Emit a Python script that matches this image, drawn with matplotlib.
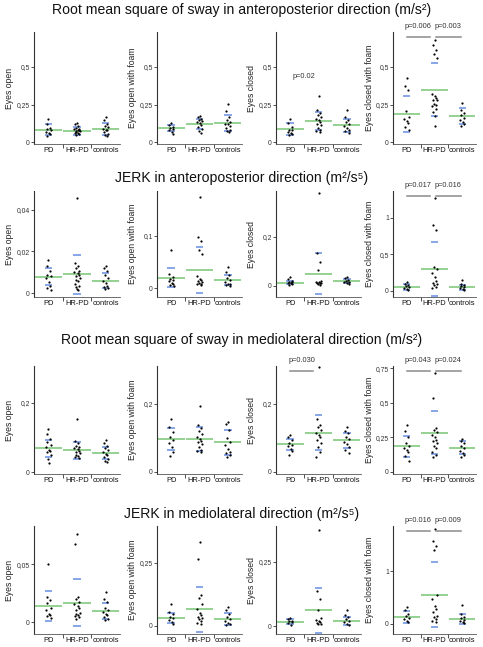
import matplotlib
matplotlib.use("Agg")
import matplotlib.pyplot as plt
from matplotlib.ticker import FuncFormatter, FixedLocator

plt.rcParams['font.family'] = ['Liberation Sans', 'DejaVu Sans']

groups = ["PD", "HR-PD", "controls"]
conditions = ["Eyes open", "Eyes open with foam", "Eyes closed", "Eyes closed with foam"]
titles = ["Root mean square of sway in anteroposterior direction (m/s²)",
          "JERK in anteroposterior direction (m²/s⁵)",
          "Root mean square of sway in mediolateral direction (m/s²)",
          "JERK in mediolateral direction (m²/s⁵)"]

# ---- individual values (PD, HR-PD, controls) ----
rms_ap_eo = [[0.156, 0.12, 0.093, 0.087, 0.078, 0.064, 0.06, 0.051, 0.04],
             [0.127, 0.118, 0.104, 0.096, 0.09, 0.087, 0.082, 0.078, 0.075, 0.071, 0.064, 0.06, 0.058, 0.051, 0.044],
             [0.167, 0.149, 0.122, 0.104, 0.1, 0.089, 0.082, 0.078, 0.067, 0.056, 0.044, 0.038]]
rms_ap_eof = [[0.129, 0.111, 0.1, 0.092, 0.089, 0.078, 0.067, 0.056],
              [0.171, 0.167, 0.156, 0.144, 0.14, 0.133, 0.125, 0.111, 0.1, 0.089, 0.073, 0.062],
              [0.251, 0.204, 0.167, 0.144, 0.133, 0.122, 0.118, 0.104, 0.093, 0.078, 0.071, 0.067]]
rms_ap_ec = [[0.156, 0.127, 0.1, 0.08, 0.078, 0.067, 0.06, 0.056, 0.049],
             [0.307, 0.211, 0.193, 0.178, 0.167, 0.156, 0.144, 0.133, 0.122, 0.111, 0.093, 0.082, 0.073, 0.067],
             [0.211, 0.167, 0.144, 0.133, 0.118, 0.104, 0.093, 0.082, 0.071, 0.062]]
rms_ap_ecf = [[0.427, 0.371, 0.349, 0.207, 0.167, 0.151, 0.14, 0.127, 0.1, 0.082],
              [0.682, 0.649, 0.616, 0.589, 0.562, 0.318, 0.304, 0.293, 0.282, 0.278, 0.256, 0.245, 0.238, 0.222, 0.2, 0.171, 0.104],
              [0.26, 0.211, 0.193, 0.178, 0.162, 0.149, 0.133, 0.118, 0.104]]

jerk_ap_eo = [[0.016, 0.013, 0.0104, 0.0088, 0.008, 0.0072, 0.0051, 0.0035, 0.0024, 0.0016],
              [0.0456, 0.0144, 0.0131, 0.012, 0.0107, 0.0099, 0.0096, 0.0088, 0.008, 0.0072, 0.0064, 0.0056, 0.0045, 0.0035, 0.0027, 0.0019, 0.0013],
              [0.0131, 0.012, 0.0107, 0.0088, 0.0072, 0.006, 0.0048, 0.0035, 0.0029, 0.0024, 0.0019]]
jerk_ap_eof = [[0.073, 0.0277, 0.0213, 0.0181, 0.0161, 0.0135, 0.0103, 0.0084, 0.0058, 0.0032],
               [0.175, 0.0987, 0.091, 0.073, 0.0645, 0.0226, 0.018, 0.0148, 0.0135, 0.0116, 0.0097, 0.0084, 0.0071, 0.0052],
               [0.0406, 0.031, 0.0245, 0.02, 0.0148, 0.0116, 0.0084, 0.0071, 0.0052, 0.0039]]
jerk_ap_ec = [[0.038, 0.027, 0.022, 0.018, 0.0164, 0.0137, 0.011, 0.008, 0.004],
              [0.378, 0.134, 0.1, 0.066, 0.022, 0.018, 0.0152, 0.0137, 0.0123, 0.011, 0.008, 0.004],
              [0.038, 0.0315, 0.025, 0.0205, 0.0164, 0.0151, 0.0123, 0.008]]
jerk_ap_ecf = [[0.123, 0.095, 0.077, 0.068, 0.059, 0.041, 0.027, 0.014],
               [1.26, 0.9, 0.83, 0.32, 0.295, 0.24, 0.195, 0.136, 0.105, 0.095, 0.082, 0.059, 0.036],
               [0.15, 0.095, 0.082, 0.068, 0.05, 0.036, 0.023, 0.009]]

rms_ml_eo = [[0.123, 0.111, 0.095, 0.086, 0.079, 0.071, 0.064, 0.062, 0.057, 0.048, 0.038, 0.026],
             [0.152, 0.09, 0.083, 0.076, 0.071, 0.069, 0.067, 0.062, 0.059, 0.054, 0.05, 0.047, 0.043, 0.04],
             [0.093, 0.083, 0.076, 0.07, 0.064, 0.057, 0.052, 0.048, 0.043, 0.038, 0.033, 0.029]]
rms_ml_eof = [[0.157, 0.133, 0.118, 0.103, 0.094, 0.086, 0.074, 0.059, 0.046],
              [0.194, 0.138, 0.128, 0.121, 0.111, 0.103, 0.096, 0.091, 0.089, 0.082, 0.074, 0.066, 0.062, 0.059],
              [0.148, 0.141, 0.123, 0.101, 0.089, 0.079, 0.069, 0.059, 0.056, 0.051, 0.044]]
rms_ml_ec = [[0.109, 0.102, 0.094, 0.084, 0.079, 0.076, 0.069, 0.061, 0.05],
             [0.309, 0.155, 0.139, 0.132, 0.124, 0.116, 0.109, 0.102, 0.094, 0.086, 0.074, 0.059, 0.043],
             [0.131, 0.122, 0.114, 0.104, 0.096, 0.089, 0.082, 0.074, 0.066, 0.056]]
rms_ml_ecf = [[0.336, 0.294, 0.252, 0.208, 0.189, 0.172, 0.159, 0.147, 0.115, 0.081],
              [0.718, 0.534, 0.319, 0.306, 0.287, 0.27, 0.252, 0.233, 0.221, 0.208, 0.189, 0.172, 0.147, 0.123, 0.105],
              [0.238, 0.225, 0.208, 0.189, 0.172, 0.154, 0.135, 0.123, 0.11]]

jerk_ml_eo = [[0.05, 0.0214, 0.0194, 0.0166, 0.012, 0.0106, 0.0071, 0.0063, 0.0051, 0.0034],
              [0.0763, 0.0671, 0.0214, 0.02, 0.0177, 0.0157, 0.0137, 0.012, 0.01, 0.008, 0.0071, 0.0063, 0.0051, 0.0043, 0.0029],
              [0.0263, 0.02, 0.0171, 0.012, 0.01, 0.0086, 0.0071, 0.0057, 0.0043, 0.0029, 0.002]]
jerk_ml_eof = [[0.0855, 0.057, 0.046, 0.037, 0.03, 0.024, 0.017, 0.008],
               [0.333, 0.264, 0.122, 0.112, 0.089, 0.067, 0.05, 0.043, 0.037, 0.03, 0.028, 0.02, 0.013, 0.007],
               [0.076, 0.063, 0.046, 0.037, 0.0276, 0.02, 0.013, 0.007, 0.004]]
jerk_ml_ec = [[0.032, 0.026, 0.021, 0.019, 0.014, 0.01, 0.006],
              [0.373, 0.136, 0.107, 0.062, 0.03, 0.023, 0.02, 0.017, 0.013, 0.009, 0.0065],
              [0.062, 0.045, 0.036, 0.027, 0.019, 0.014, 0.009, 0.004]]
jerk_ml_ecf = [[0.318, 0.268, 0.191, 0.146, 0.112, 0.096, 0.064, 0.032],
               [1.8, 1.56, 1.465, 1.39, 0.554, 0.478, 0.338, 0.287, 0.223, 0.159, 0.127, 0.096, 0.064, 0.032],
               [0.363, 0.191, 0.14, 0.108, 0.083, 0.064, 0.045, 0.025]]

# ---- means and SDs: rows = conditions, cols = PD, HR-PD, controls ----
rms_ap_mean = [[0.083, 0.075, 0.09], [0.092, 0.122, 0.126], [0.089, 0.138, 0.112], [0.186, 0.35, 0.172]]
rms_ap_sd = [[0.037, 0.027, 0.04], [0.02, 0.034, 0.053], [0.04, 0.061, 0.042], [0.118, 0.177, 0.055]]
jerk_ap_mean = [[0.0079, 0.0091, 0.006], [0.0195, 0.0345, 0.0152], [0.0137, 0.05, 0.019], [0.053, 0.305, 0.048]]
jerk_ap_sd = [[0.0042, 0.0094, 0.0036], [0.0184, 0.0435, 0.009], [0.0068, 0.084, 0.008], [0.04, 0.368, 0.034]]
rms_ml_mean = [[0.068, 0.063, 0.056], [0.096, 0.096, 0.088], [0.081, 0.116, 0.0935], [0.184, 0.282, 0.174]]
rms_ml_sd = [[0.025, 0.025, 0.017], [0.032, 0.035, 0.037], [0.0175, 0.052, 0.0225], [0.078, 0.155, 0.047]]
jerk_ml_mean = [[0.0136, 0.0166, 0.0096], [0.032, 0.066, 0.027], [0.017, 0.062, 0.02], [0.127, 0.556, 0.096]]
jerk_ml_sd = [[0.013, 0.0204, 0.0069], [0.021, 0.0885, 0.023], [0.0103, 0.0875, 0.016], [0.109, 0.608, 0.096]]

# ---- axis ticks and limits ----
y_ticks = [[[0, 0.25, 0.5]] * 4,
           [[0, 0.02, 0.04], [0, 0.1], [0, 0.2], [0, 0.5, 1]],
           [[0, 0.2], [0, 0.2], [0, 0.2], [0, 0.25, 0.5, 0.75]],
           [[0, 0.05], [0, 0.25], [0, 0.25], [0, 1]]]
y_limits = [[(-0.013, 0.733)] * 4,
            [(-0.0019, 0.049), (-0.0173, 0.1865), (-0.045, 0.388), (-0.082, 1.362)],
            [(-0.0057, 0.306), (-0.006, 0.312), (-0.006, 0.312), (-0.015, 0.765)],
            [(-0.0103, 0.0828), (-0.032, 0.397), (-0.031, 0.39), (-0.19, 1.85)]]

# ---- significance annotations: (row, col, group a, group b, text, draw bar) ----
p_values = [(0, 2, 0, 1, "p=0.02", False),
            (0, 3, 0, 1, "p=0.006", True), (0, 3, 1, 2, "p=0.003", True),
            (1, 3, 0, 1, "p=0.017", True), (1, 3, 1, 2, "p=0.016", True),
            (2, 2, 0, 1, "p=0.030", True),
            (2, 3, 0, 1, "p=0.043", True), (2, 3, 1, 2, "p=0.024", True),
            (3, 3, 0, 1, "p=0.016", True), (3, 3, 1, 2, "p=0.009", True)]

points = [[rms_ap_eo, rms_ap_eof, rms_ap_ec, rms_ap_ecf],
          [jerk_ap_eo, jerk_ap_eof, jerk_ap_ec, jerk_ap_ecf],
          [rms_ml_eo, rms_ml_eof, rms_ml_ec, rms_ml_ecf],
          [jerk_ml_eo, jerk_ml_eof, jerk_ml_ec, jerk_ml_ecf]]
means = [rms_ap_mean, jerk_ap_mean, rms_ml_mean, jerk_ml_mean]
sds = [rms_ap_sd, jerk_ap_sd, rms_ml_sd, jerk_ml_sd]

W, H = 483, 647
col_x = [(34, 120), (157, 242), (276, 361), (393, 476)]
row_y = [(32, 144), (191, 297), (366, 474), (526, 634)]
title_y = [10, 178, 340, 514]
jitter = [0.0, -0.06, 0.05, -0.03, 0.08, -0.09, 0.02, 0.06, -0.05, 0.09, -0.02, 0.04, -0.08, 0.07, -0.04, 0.01, 0.03]

GREEN = "#82c97e"
BLUE = "#7396e4"


def comma_fmt(v, pos):
    return f"{v:g}".replace(".", ",")


fig = plt.figure(figsize=(W / 100, H / 100), dpi=100)
axes = {}
for r in range(4):
    fig.text(0.5, 1 - title_y[r] / H, titles[r], ha="center", va="center", fontsize=10.1, color="#111")
    for c in range(4):
        x0, x1 = col_x[c]
        y0, y1 = row_y[r]
        ax = fig.add_axes([x0 / W, 1 - y1 / H, (x1 - x0) / W, (y1 - y0) / H])
        axes[(r, c)] = ax
        ax.set_xlim(0.5, 3.5)
        ax.set_ylim(*y_limits[r][c])
        for g in range(3):
            vals = points[r][c][g]
            xs = [g + 1 + jitter[i % len(jitter)] for i in range(len(vals))]
            ax.plot(xs, vals, "o", color="black", markersize=1.6, markeredgewidth=0, zorder=3)
            m = means[r][c][g]
            s = sds[r][c][g]
            ax.hlines(m, g + 0.52, g + 1.48, color=GREEN, lw=1.2, zorder=2)
            ax.hlines([m - s, m + s], g + 1 - 0.13, g + 1 + 0.13, color=BLUE, lw=1.2, zorder=2)
        for side in ("top", "right"):
            ax.spines[side].set_visible(False)
        ax.spines["left"].set_color("#333")
        ax.spines["left"].set_linewidth(0.8)
        ax.spines["bottom"].set_color("#555")
        ax.spines["bottom"].set_linewidth(0.6)
        ax.yaxis.set_major_locator(FixedLocator(y_ticks[r][c]))
        ax.yaxis.set_major_formatter(FuncFormatter(comma_fmt))
        ax.tick_params(axis="y", labelsize=4.9, length=2, width=0.6, pad=1, colors="#333")
        ax.set_xticks([1, 2, 3])
        ax.set_xticklabels(groups)
        ax.tick_params(axis="x", labelsize=5.4, length=0, pad=2.5, colors="#111")
        ax.set_xticks([1.5, 2.5], minor=True)
        ax.tick_params(axis="x", which="minor", length=3, width=0.6, color="#333")
        ax.set_ylabel(conditions[c], fontsize=6.2, color="#222")
        ax.yaxis.set_label_coords(-0.23, 0.5)

for (r, c, a, b, txt, bar) in p_values:
    ax = axes[(r, c)]
    lo, hi = ax.get_ylim()
    if not bar:
        ax.text((a + b + 2) / 2, lo + 0.6 * (hi - lo), txt, ha="center", va="center", fontsize=5.3, color="#333")
        continue
    xa = a + 1 + (0.05 if a == 1 else 0.0)
    xb = b + 1 - (0.18 if b == 1 else 0.05)
    yb = lo + 0.955 * (hi - lo)
    ax.plot([xa, xb], [yb, yb], color="#8a8a8a", lw=1.1, clip_on=False, zorder=4)
    ax.text((xa + xb) / 2, yb + 0.065 * (hi - lo), txt, ha="center", va="bottom", fontsize=5.3, color="#333", clip_on=False)

fig.savefig("out.png", dpi=100)
